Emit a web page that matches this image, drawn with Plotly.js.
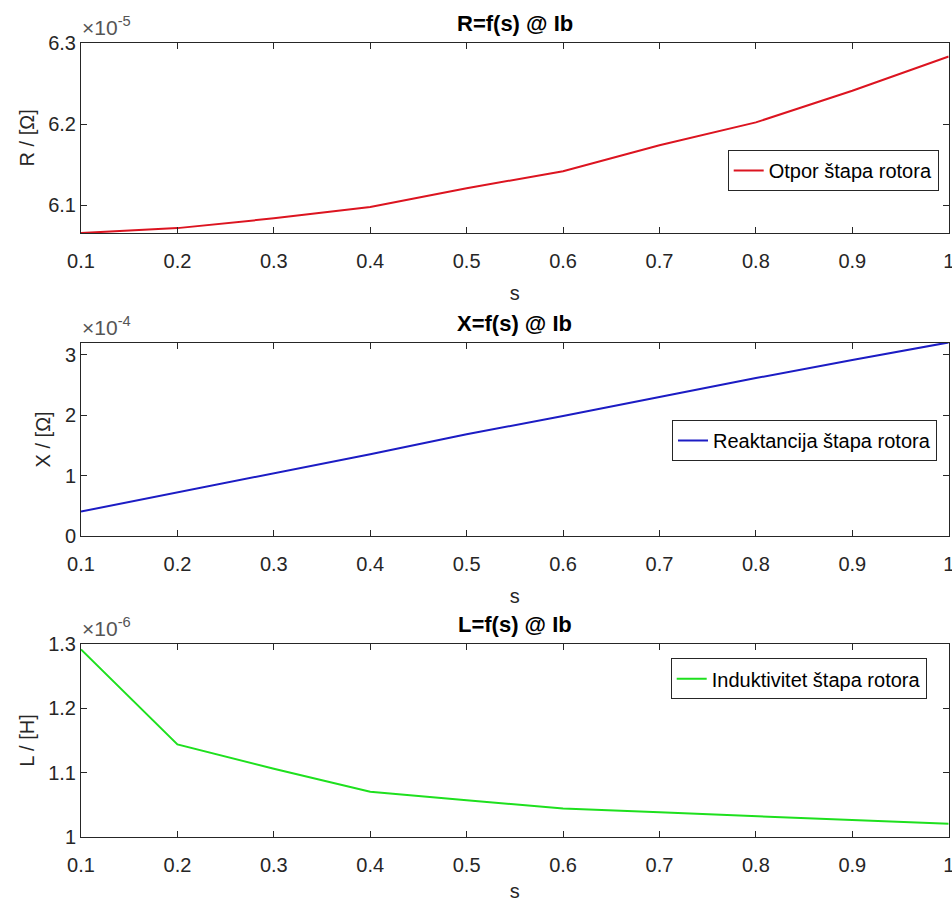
<!DOCTYPE html>
<html>
<head>
<meta charset="utf-8">
<script src="https://cdn.plot.ly/plotly-3.0.1.min.js"></script>
<style>html,body{margin:0;padding:0;background:#fff;}#chart{width:952px;height:902px;}</style>
</head>
<body>
<div id="chart"></div>
<script>
// Data
const s = [0.1, 0.2, 0.3, 0.4, 0.5, 0.6, 0.7, 0.8, 0.9, 1.0];
const R = [6.066e-5, 6.072e-5, 6.084e-5, 6.098e-5, 6.121e-5, 6.142e-5, 6.174e-5, 6.202e-5, 6.241e-5, 6.283e-5];
const X = [0.405e-4, 0.719e-4, 1.040e-4, 1.355e-4, 1.686e-4, 1.985e-4, 2.300e-4, 2.614e-4, 2.915e-4, 3.205e-4];
const L = [1.292e-6, 1.144e-6, 1.106e-6, 1.070e-6, 1.057e-6, 1.044e-6, 1.038e-6, 1.032e-6, 1.026e-6, 1.020e-6];

const names = ['Otpor štapa rotora', 'Reaktancija štapa rotora', 'Induktivitet štapa rotora'];
const titles = ['R=f(s) @ Ib', 'X=f(s) @ Ib', 'L=f(s) @ Ib'];
const yTitles = ['R / [Ω]', 'X / [Ω]', 'L / [H]'];
const exps = ['×10<sup>-5</sup>', '×10<sup>-4</sup>', '×10<sup>-6</sup>'];
const xTickVals = [0.1, 0.2, 0.3, 0.4, 0.5, 0.6, 0.7, 0.8, 0.9, 1];
const xTickText = ['0.1', '0.2', '0.3', '0.4', '0.5', '0.6', '0.7', '0.8', '0.9', '1'];
const rTickVals = [6.1e-5, 6.2e-5, 6.3e-5];
const rTickText = ['6.1', '6.2', '6.3'];
const xrTickVals = [0, 1e-4, 2e-4, 3e-4];
const xrTickText = ['0', '1', '2', '3'];
const lTickVals = [1.0e-6, 1.1e-6, 1.2e-6, 1.3e-6];
const lTickText = ['1', '1.1', '1.2', '1.3'];
const yRanges = [[6.066e-5, 6.3e-5], [0, 3.2e-4], [1.0e-6, 1.3e-6]];

const FONT = 'Liberation Sans, Arial, Helvetica, sans-serif';
const AX = '#262626';
const W = 952, H = 902;
const xDom = [81 / W, 948.7 / W];
const tops = [42.7, 342.7, 644.3];
const bottoms = [233, 536, 836.7];
const yDoms = tops.map((t, i) => [1 - bottoms[i] / H, 1 - t / H]);
const colors = ['#dc1420', '#1c1cc4', '#1ee01e'];
const ys = [R, X, L];

const traces = ys.map((y, i) => ({
  x: s, y: y, type: 'scatter', mode: 'lines', name: names[i],
  line: {color: colors[i], width: 2},
  xaxis: i === 0 ? 'x' : 'x' + (i + 1),
  yaxis: i === 0 ? 'y' : 'y' + (i + 1),
  legend: i === 0 ? 'legend' : 'legend' + (i + 1)
}));

const layout = {
  width: W, height: H,
  margin: {l: 0, r: 0, t: 0, b: 0},
  paper_bgcolor: '#ffffff', plot_bgcolor: '#ffffff',
  font: {family: FONT, size: 20, color: AX},
  annotations: [],
  showlegend: true
};

const yTicks = [[rTickVals, rTickText], [xrTickVals, xrTickText], [lTickVals, lTickText]];
const legendTops = [150, 420, 658.3];
const legendRights = [938.7, 937, 926.7];

for (let i = 0; i < 3; i++) {
  const xa = i === 0 ? 'xaxis' : 'xaxis' + (i + 1);
  const ya = i === 0 ? 'yaxis' : 'yaxis' + (i + 1);
  const xref = i === 0 ? 'x' : 'x' + (i + 1);
  const yref = i === 0 ? 'y' : 'y' + (i + 1);
  layout[xa] = {
    domain: xDom, anchor: yref, range: [0.1, 1],
    tickvals: xTickVals, ticktext: xTickText,
    ticks: 'inside', ticklen: 6, tickcolor: AX, tickwidth: 1,
    showline: true, linecolor: AX, linewidth: 1, mirror: 'ticks',
    showgrid: false, zeroline: false,
    ticklabeloverflow: 'allow', ticklabelstandoff: 10,
    tickfont: {family: FONT, size: 20, color: AX},
    title: {text: 's', font: {family: FONT, size: 20, color: AX}, standoff: 14},
    automargin: false
  };
  layout[ya] = {
    domain: yDoms[i], anchor: xref, range: yRanges[i],
    tickvals: yTicks[i][0], ticktext: yTicks[i][1],
    ticks: 'inside', ticklen: 6, tickcolor: AX, tickwidth: 1,
    showline: true, linecolor: AX, linewidth: 1, mirror: 'ticks',
    showgrid: false, zeroline: false,
    ticklabeloverflow: 'allow',
    tickfont: {family: FONT, size: 20, color: AX},
    title: {text: yTitles[i], font: {family: FONT, size: 20, color: AX}, standoff: 8},
    automargin: false
  };
  const lg = i === 0 ? 'legend' : 'legend' + (i + 1);
  layout[lg] = {
    x: legendRights[i] / W, xanchor: 'right',
    y: 1 - legendTops[i] / H, yanchor: 'top',
    bgcolor: '#ffffff', bordercolor: AX, borderwidth: 1,
    font: {family: FONT, size: 20, color: '#000000'}
  };
  layout.annotations.push({
    xref: 'paper', yref: 'paper', x: (xDom[0] + xDom[1]) / 2, y: 1 - (tops[i] - 5) / H,
    xanchor: 'center', yanchor: 'bottom', showarrow: false,
    text: '<b>' + titles[i] + '</b>', font: {family: FONT, size: 22, color: '#000000'}
  });
  layout.annotations.push({
    xref: 'paper', yref: 'paper', x: 80 / W, y: 1 - (tops[i] - 2) / H,
    xanchor: 'left', yanchor: 'bottom', showarrow: false,
    text: exps[i], font: {family: FONT, size: 21, color: '#555555'}
  });
}

Plotly.newPlot('chart', traces, layout, {displayModeBar: false, staticPlot: true});
</script>
</body>
</html>
